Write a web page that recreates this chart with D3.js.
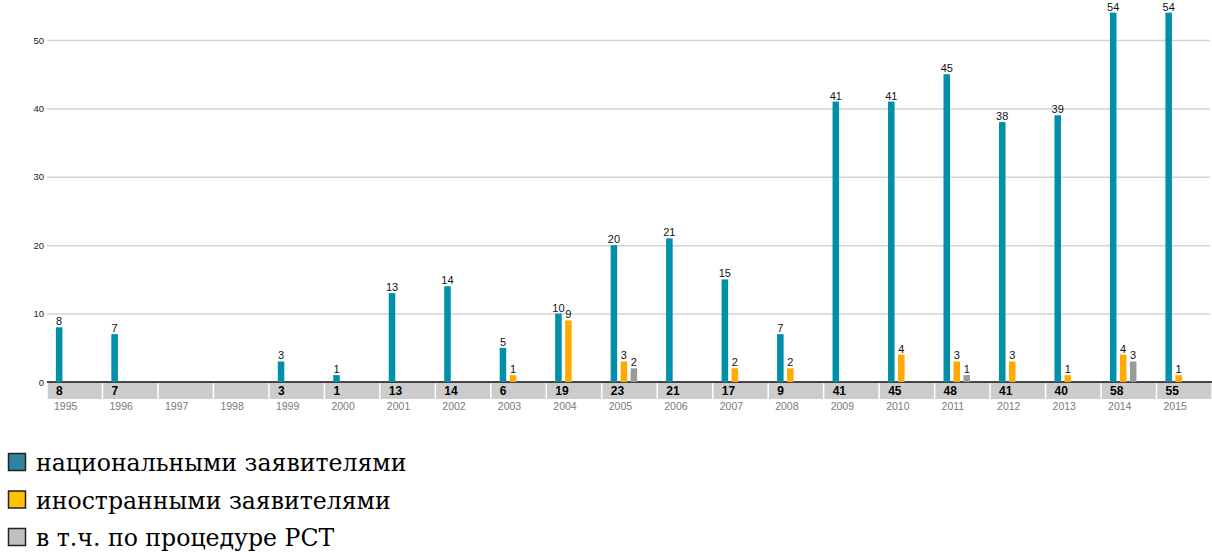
<!DOCTYPE html>
<html>
<head>
<meta charset="utf-8">
<script src="https://cdn.jsdelivr.net/npm/d3@7/dist/d3.min.js"></script>
<style>
  html, body { margin: 0; padding: 0; background: #fff; }
  svg { display: block; }
</style>
</head>
<body>
<svg id="chart" width="1212" height="556"></svg>
<script>
// Patent applications per year, by applicant type
const years = ["1995","1996","1997","1998","1999","2000","2001","2002","2003","2004","2005",
               "2006","2007","2008","2009","2010","2011","2012","2013","2014","2015"];
const national = [8,7,0,0,3,1,13,14,5,10,20,21,15,7,41,41,45,38,39,54,54];
const foreign  = [0,0,0,0,0,0,0,0,1,9,3,0,2,2,0,4,3,3,1,4,1];
const pct      = [0,0,0,0,0,0,0,0,0,0,2,0,0,0,0,0,1,0,0,3,0];
const totals   = ["8","7","","","3","1","13","14","6","19","23","21","17","9","41","45","48","41","40","58","55"];
const yTicks   = [0,10,20,30,40,50];

const seriesNames  = ["национальными заявителями", "иностранными заявителями", "в т.ч. по процедуре PCT"];
const barColors    = ["#0090a8", "#ffaa00", "#9a9a9a"];
const legendColors = ["#31849b", "#ffc000", "#c0c0c0"];

const SANS  = "'Liberation Sans', Arial, sans-serif";
const SERIF = "'DejaVu Serif', 'Liberation Serif', 'Times New Roman', serif";

const svg = d3.select("#chart");
const left = 47, right = 1212, zeroY = 382;

const x = d3.scaleBand().domain(years).range([left, right]);
const y = d3.scaleLinear().domain([0, 50]).range([zeroY, 40]);
const bw = x.bandwidth();

// horizontal grid + y tick labels
const yAxis = d3.axisLeft(y).tickValues(yTicks).tickSize(-(right - 2 - left)).tickPadding(3);
const gy = svg.append("g").attr("transform", `translate(${left},0)`).call(yAxis);
gy.select(".domain").remove();
gy.attr("font-family", SANS);
gy.selectAll(".tick line").attr("stroke", "#d3d3d3").attr("stroke-width", 1.5);
gy.selectAll(".tick text").attr("font-size", 9.5).attr("fill", "#222");

// totals strip under the axis
const strip = svg.append("g").attr("font-family", SANS);
strip.selectAll("rect").data(years).join("rect")
  .attr("x", d => x(d) + 0.75).attr("y", zeroY + 1)
  .attr("width", bw - 1.5).attr("height", 16)
  .attr("fill", "#cccccc");
strip.selectAll("text").data(years).join("text")
  .attr("x", d => x(d) + 9).attr("y", zeroY + 13)
  .attr("font-size", 12).attr("font-weight", "bold").attr("fill", "#000")
  .text((d, i) => totals[i]);

// baseline
svg.append("line")
  .attr("x1", left).attr("x2", right).attr("y1", zeroY).attr("y2", zeroY)
  .attr("stroke", "#111").attr("stroke-width", 1.5);

// year labels
const xAxis = d3.axisBottom(x).tickSize(0).tickPadding(0);
const gx = svg.append("g").attr("transform", `translate(0,${zeroY + 20})`).call(xAxis);
gx.select(".domain").remove();
gx.attr("font-family", SANS);
gx.selectAll(".tick text")
  .attr("text-anchor", "start").attr("x", -bw / 2 + 7).attr("dy", "0.8em")
  .attr("font-size", 10.5).attr("fill", "#7a7a7a");

// bars with value labels
const series = [national, foreign, pct];
const barW = bw * 0.118;
series.forEach((vals, s) => {
  const cx = d => x(d.year) + bw * 0.16 + s * bw * 0.18;
  const data = years.map((yr, i) => ({ year: yr, v: vals[i] })).filter(d => d.v > 0);
  const g = svg.append("g").attr("font-family", SANS);
  g.selectAll("rect").data(data).join("rect")
    .attr("x", cx).attr("y", d => y(d.v))
    .attr("width", barW).attr("height", d => zeroY - y(d.v))
    .attr("fill", barColors[s]);
  g.selectAll("text").data(data).join("text")
    .attr("x", d => cx(d) + barW / 2).attr("y", d => y(d.v) - 2)
    .attr("text-anchor", "middle")
    .attr("font-size", 11).attr("fill", "#111")
    .text(d => d.v);
});

// legend
const lg = svg.append("g");
seriesNames.forEach((name, i) => {
  const cy = 462 + i * 37.5;
  lg.append("rect")
    .attr("x", 8.5).attr("y", cy - 8.5).attr("width", 17).attr("height", 17)
    .attr("fill", legendColors[i]).attr("stroke", "#222").attr("stroke-width", 1.5);
  lg.append("text")
    .style("font-family", SERIF)
    .attr("x", 36).attr("y", cy + 9)
    .attr("font-size", 23.6).attr("fill", "#000")
    .text(name);
});
</script>
</body>
</html>
